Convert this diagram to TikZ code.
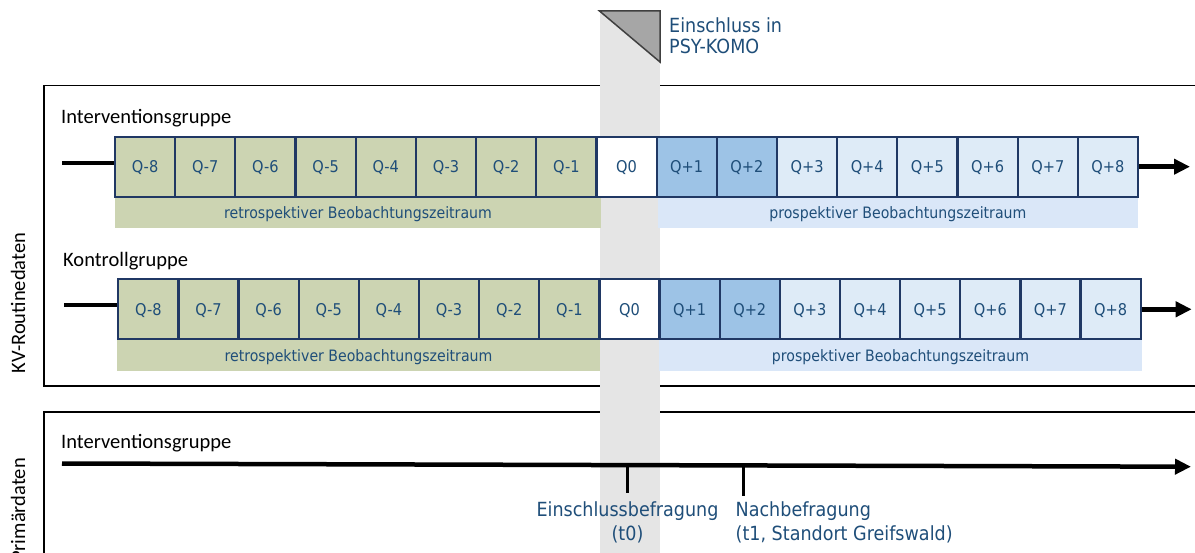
\documentclass[tikz,border=0pt]{standalone}
\usepackage{fontspec}
\setmainfont{Carlito}
\newfontfamily\tah[FakeStretch=0.9]{DejaVu Sans}
\usetikzlibrary{arrows.meta}
\definecolor{navy}{HTML}{203864}
\definecolor{tblue}{HTML}{1F4E79}
\definecolor{cg}{HTML}{CCD4B2}
\definecolor{cb}{HTML}{9DC3E6}
\definecolor{cl}{HTML}{DEEBF7}
\definecolor{sb}{HTML}{DAE7F8}
\definecolor{bandgray}{HTML}{E5E5E5}
\definecolor{trifill}{HTML}{A6A6A6}
\definecolor{tridraw}{HTML}{404040}
\begin{document}
\begin{tikzpicture}[x=1pt,y=-1pt,
  frame/.style={draw=black, line width=1.5pt},
  cell/.style={draw=navy, line width=2.2pt, minimum width=60.2pt, minimum height=60pt, inner sep=0pt, text=tblue, text height=11.8pt, text depth=0pt, font=\tah\fontsize{16.2}{18}\selectfont},
  strip/.style={inner sep=0pt, minimum height=31pt, text=tblue, text height=12pt, text depth=0pt, font=\tah\fontsize{15.7}{18}\selectfont},
  group/.style={anchor=base west, inner sep=0pt, font=\fontsize{20.5}{24}\selectfont},
  side/.style={anchor=base, rotate=90, inner sep=0pt, font=\fontsize{20.5}{24}\selectfont},
  axis/.style={line width=4.5pt, -{Triangle[length=16pt,width=15pt]}},
  lead/.style={line width=4.5pt},
  tickline/.style={line width=3pt},
  note/.style={inner sep=0pt, text=tblue, font=\tah\fontsize{19.5}{21.5}\selectfont}
]
\useasboundingbox (0,0) rectangle (1195,553);
\clip (0,0) rectangle (1195,553);

% frames
\draw[frame] (44,85.5) rectangle (1240,386);
\draw[frame] (44,412) rectangle (1240,620);

% inclusion band and marker
\fill[bandgray] (599.5,11) rectangle (660,560);
\filldraw[fill=trifill, draw=tridraw, line width=1.5pt, line join=miter] (599.5,11) -- (660,11) -- (660,62) -- cycle;
\node[note, anchor=base west, align=left] (inc) at (669,54) {Einschluss in\\PSY-KOMO};

% side labels
\node[side] (kv) at (25,303) {KV-Routinedaten};
\node[side] (pd) at (25,510) {Primärdaten};

% group labels
\node[group] (g1) at (61,123.3) {Interventionsgruppe};
\node[group] (g2) at (63,266.7) {Kontrollgruppe};
\node[group] (g3) at (61,448.3) {Interventionsgruppe};

% strips
\node[strip, fill=cg, minimum width=486pt] (s1r) at (358,212.2) {retrospektiver Beobachtungszeitraum};
\node[strip, fill=sb, minimum width=480.3pt] (s1p) at (897.85,212.2) {prospektiver Beobachtungszeitraum};
\node[strip, fill=cg, minimum width=483pt, minimum height=30.7pt] (s2r) at (358.5,355.35) {retrospektiver Beobachtungszeitraum};
\node[strip, fill=sb, minimum width=482.4pt, minimum height=30.7pt] (s2p) at (900.5,355.35) {prospektiver Beobachtungszeitraum};

% cells
\foreach \i/\t/\c in {1/Q-8/cg,2/Q-7/cg,3/Q-6/cg,4/Q-5/cg,5/Q-4/cg,6/Q-3/cg,7/Q-2/cg,8/Q-1/cg,9/Q0/white,10/Q+1/cb,11/Q+2/cb,12/Q+3/cl,13/Q+4/cl,14/Q+5/cl,15/Q+6/cl,16/Q+7/cl,17/Q+8/cl}{
  \node[cell, fill=\c] (a\i) at ({115+(\i-0.5)*60.18},166.7) {\t};
  \node[cell, fill=\c, minimum width=60.14pt] (b\i) at ({118.3+(\i-0.5)*60.14},309.3) {\t};
}

% timeline arrows of KV rows
\coordinate (l1) at (62,163);
\coordinate (e1) at (1190,166.7);
\draw[lead] (l1) -- (l1 -| a1.west);
\draw[axis] (a17.east) -- (e1);
\coordinate (l2) at (64,305);
\coordinate (e2) at (1191.7,309.3);
\draw[lead] (l2) -- (l2 -| b1.west);
\draw[axis] (b17.east) -- (e2);

% primary data timeline
\coordinate (p0) at (62,463.5);
\coordinate (p1) at (1191,466.7);
\draw[axis] (p0) -- (p1);
\coordinate (t0a) at (627.7,464.5);
\coordinate (t0b) at (627.7,493);
\coordinate (t1a) at (743.3,465);
\coordinate (t1b) at (743.3,496);
\draw[tickline] (t0a) -- (t0b);
\draw[tickline] (t1a) -- (t1b);
\node[note, anchor=base, align=center, font=\tah\fontsize{19.5}{23.3}\selectfont] (n0) at (627.5,540) {Einschlussbefragung\\(t0)};
\node[note, anchor=base west, align=left, font=\tah\fontsize{19.5}{23.3}\selectfont] (n1) at (735.5,540) {Nachbefragung\\(t1, Standort Greifswald)};
\end{tikzpicture}
\end{document}
